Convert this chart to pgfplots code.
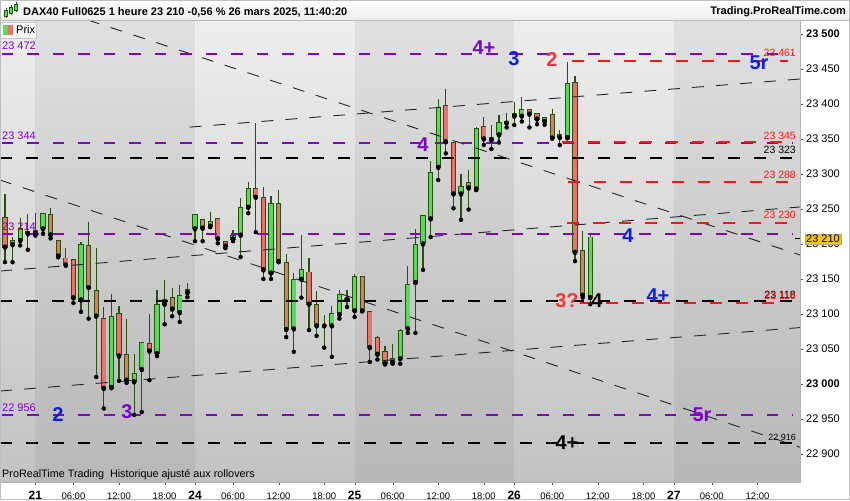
\documentclass[border=0pt]{standalone}
\usepackage{pgfplots}
\pgfplotsset{compat=1.18}
\usepackage{pgfplotstable}
\usepackage{fontspec}
\setmainfont{Liberation Sans}

\definecolor{upc}{RGB}{84,222,84}
\definecolor{dnc}{RGB}{234,116,104}
\definecolor{wickc}{RGB}{38,82,14}
\definecolor{purp}{RGB}{128,0,204}
\definecolor{bluec}{RGB}{10,30,240}
\definecolor{redl}{RGB}{255,20,20}
\definecolor{redt}{RGB}{236,56,56}
\definecolor{bgtop}{RGB}{238,238,238}
\definecolor{bgbot}{RGB}{194,194,194}
\definecolor{pricebox}{RGB}{247,198,0}

% hourly candles, k = candle index (one per hour, 01:00-21:00)
\pgfplotstableread{
k O H L C
2 23205 23237 23198 23221.6
5 23221.6 23244 23214.5 23243
10 23120 23202.6 23103 23199
14 22995 23129 22994 23096.7
17 23003 23043.5 22956 23015
18 23020.7 23060 22960 23058.7
20 23043.5 23134 23039.7 23113.8
21 23114 23148 23085.3 23120.4
23 23102 23141 23088.6 23126.6
24 23130.4 23144 23124 23134.7
25 23221.6 23242 23204 23241.6
27 23225.4 23245 23224 23231.6
30 23207 23220 23204 23212.6
31 23212.6 23265.8 23181.3 23251.5
32 23252.5 23289 23244 23278.6
35 23158.5 23269 23150 23257.3
38 23078.7 23158.5 23046 23149
39 23149.5 23213.5 23123.3 23163.2
43 23083 23111 23038.8 23100.5
44 23099 23133.8 23093.5 23127.5
45 23121 23133.8 23110 23122
46 23104.5 23156.5 23095.8 23153.7
51 23030.7 23056.8 23029 23036.5
52 23036 23078 23029 23076.8
53 23079 23168 23073 23141.8
54 23144.7 23221.6 23073 23198.8
55 23200 23242 23163 23240.6
56 23235.9 23318 23209.8 23302.4
57 23309.5 23406.9 23291.5 23395
60 23271.5 23300 23234.5 23282.5
62 23278.6 23367 23277 23365.5
64 23348.5 23369.8 23335.6 23352.7
65 23356 23384.5 23345 23374
66 23372.7 23387 23366.5 23375.5
67 23382.6 23403 23370 23386
68 23382.6 23410 23375 23392.6
71 23375 23382 23370.3 23380.7
73 23352 23362.7 23341.3 23357
74 23352 23460 23351 23429.7
77 23123.3 23214.5 23114 23210
}\upcandles

\pgfplotstableread{
k O H L C
0 23238 23271.5 23174 23195.5
1 23205 23210 23174 23199
3 23218 23243 23191.7 23214.5
4 23219 23244 23212 23215
6 23241.6 23251.5 23208 23213
7 23205 23206 23181 23182.7
8 23180 23194.5 23169 23170
9 23178 23179 23115.7 23123
11 23198 23232 23093.4 23137.5
12 23134 23194.5 23010 23097
13 23093 23110 22965 22993.6
15 23100.5 23111 23004.5 23040
16 23042.5 23093.4 23001.7 23005.5
19 23058 23100.5 23005.5 23047
22 23123.8 23137.5 23096.7 23107
26 23234.5 23235 23204 23222.6
28 23236 23237 23201 23207.4
29 23204 23204.5 23194 23197
33 23278.6 23372.7 23217 23266.8
34 23265.8 23282 23150 23163
36 23257.3 23277.7 23174 23175
37 23174 23185 23067 23077.7
40 23160 23180.3 23077 23114
41 23113.5 23132.5 23068.7 23083
42 23084 23098 23052 23083
47 23153 23154 23104 23104.5
48 23103 23104 23031.5 23052
49 23067 23068 23035 23042.5
50 23046.8 23054 23028 23029
58 23398.3 23421 23329.5 23346
59 23345 23346 23251 23271.5
61 23288 23305.7 23249.2 23280
63 23368.4 23382 23341.5 23350
69 23392.6 23393 23366.5 23385.5
70 23387 23387.5 23371 23378.5
72 23385.5 23392.6 23351 23351.3
75 23430.6 23440 23175.5 23188
76 23190.75 23218 23123.3 23126.6
}\dncandles

\newcommand\dl[1]{{\fontsize{12}{12}\selectfont\bfseries #1}}
\newcommand\wave[3]{\node[font=\fontsize{20}{22}\selectfont\bfseries, text=#1, inner sep=0pt] at #2 {#3};}

\begin{document}
\begin{tikzpicture}
\useasboundingbox (0pt,0pt) rectangle (850pt,500pt);
\fill[white] (0pt,0pt) rectangle (850pt,500pt);
\shade[top color=white, bottom color=gray!14] (0pt,480pt) rectangle (850pt,500pt);

\begin{axis}[
  at={(0pt,18pt)}, anchor=south west, scale only axis,
  width=800pt, height=462pt,
  xmin=-0.658, xmax=104.6, ymin=22860, ymax=23520,
  axis background/.style={top color=bgtop, bottom color=bgbot},
  axis line style={gray!60},
  tick align=outside, major tick length=3pt,
  tick style={black!70},
  scaled y ticks=false, scaled x ticks=false,
  xtick pos=bottom, ytick pos=right, yticklabel pos=right,
  xtick={4,9,15,21,25,30,36,42,46,51,57,63,67,72,78,84,88,93,99},
  xticklabels={\dl{21},06:00,12:00,18:00,\dl{24},06:00,12:00,18:00,\dl{25},06:00,12:00,18:00,\dl{26},06:00,12:00,18:00,\dl{27},06:00,12:00},
  xticklabel style={font=\fontsize{9.5}{10}\selectfont, anchor=base, inner sep=0pt, yshift=-14pt},
  ytick={22900,22950,...,23500},
  yticklabels={22 900,22 950,\textbf{23 000},23 050,23 100,23 150,23 200,23 250,23 300,23 350,23 400,23 450,\textbf{23 500}},
  yticklabel style={font=\fontsize{11}{12}\selectfont, anchor=west, inner sep=0pt, xshift=3pt},
]
% day bands
\addplot[draw=none, fill=black, fill opacity=0.055, forget plot] coordinates {(4,22860)(4,23520)(25,23520)(25,22860)};
\addplot[draw=none, fill=black, fill opacity=0.055, forget plot] coordinates {(46,22860)(46,23520)(67,23520)(67,22860)};
\addplot[draw=none, fill=black, fill opacity=0.055, forget plot] coordinates {(88,22860)(88,23520)(104.6,23520)(104.6,22860)};

% wicks
\addplot[only marks, mark=none, error bars/.cd, y dir=plus, y explicit, error mark=none,
  error bar style={draw=wickc, line width=1.1pt}]
  table[x=k, y=L, y error expr=\thisrow{H}-\thisrow{L}] {\upcandles};
\addplot[only marks, mark=none, error bars/.cd, y dir=plus, y explicit, error mark=none,
  error bar style={draw=wickc, line width=1.1pt}]
  table[x=k, y=L, y error expr=\thisrow{H}-\thisrow{L}] {\dncandles};
% bodies: outline
\addplot[only marks, mark=none, error bars/.cd, y dir=plus, y explicit, error mark=none,
  error bar style={draw=wickc, line width=5.2pt}]
  table[x=k, y expr=\thisrow{O}-0.7, y error expr=\thisrow{C}-\thisrow{O}+1.4] {\upcandles};
\addplot[only marks, mark=none, error bars/.cd, y dir=plus, y explicit, error mark=none,
  error bar style={draw=wickc, line width=5.2pt}]
  table[x=k, y expr=\thisrow{C}-0.7, y error expr=\thisrow{O}-\thisrow{C}+1.4] {\dncandles};
% bodies: fill
\addplot[only marks, mark=none, error bars/.cd, y dir=plus, y explicit, error mark=none,
  error bar style={draw=upc, line width=3.4pt}]
  table[x=k, y expr=\thisrow{O}+0.7, y error expr={max(\thisrow{C}-\thisrow{O}-1.4,0)}] {\upcandles};
\addplot[only marks, mark=none, error bars/.cd, y dir=plus, y explicit, error mark=none,
  error bar style={draw=dnc, line width=3.4pt}]
  table[x=k, y expr=\thisrow{C}+0.7, y error expr={max(\thisrow{O}-\thisrow{C}-1.4,0)}] {\dncandles};

% trend lines
\addplot[black!85, line width=0.9pt, dash pattern=on 12pt off 12pt] coordinates {(10.9,23520)(104.6,23184.3)};
\addplot[black!85, line width=0.9pt, dash pattern=on 12pt off 12pt] coordinates {(-0.66,23291.4)(104.6,22909.7)};
\addplot[black!85, line width=0.9pt, dash pattern=on 12pt off 12pt] coordinates {(-0.66,22990)(104.6,23080.6)};
\addplot[black!85, line width=0.9pt, dash pattern=on 12pt off 12pt] coordinates {(-0.66,23161.4)(104.6,23252.9)};
\addplot[black!85, line width=0.9pt, dash pattern=on 12pt off 12pt] coordinates {(24.3,23367)(104.6,23435.7)};

% levels
\addplot[purp, line width=2pt, dash pattern=on 11.5pt off 14pt] coordinates {(-0.4,23472)(103.7,23472)};
\addplot[purp, line width=2pt, dash pattern=on 11.5pt off 14pt] coordinates {(-0.4,23344)(103.7,23344)};
\addplot[purp, line width=2pt, dash pattern=on 11.5pt off 14pt] coordinates {(-0.4,23214)(103.7,23214)};
\addplot[purp, line width=2pt, dash pattern=on 11.5pt off 14pt] coordinates {(-0.4,22956)(103.7,22956)};
\addplot[black, line width=2pt, dash pattern=on 12pt off 14pt] coordinates {(-0.6,23323)(103.7,23323)};
\addplot[black, line width=2pt, dash pattern=on 12pt off 14pt] coordinates {(-0.6,23118)(103.7,23118)};
\addplot[black, line width=2pt, dash pattern=on 12pt off 14pt] coordinates {(-0.6,22916)(103.9,22916)};
\addplot[redl, line width=2pt, dash pattern=on 12pt off 14pt] coordinates {(74.6,23461)(103,23461)};
\addplot[redl, line width=2pt, dash pattern=on 12pt off 14pt] coordinates {(73.3,23345)(103,23345)};
\addplot[redl, line width=2pt, dash pattern=on 12pt off 14pt] coordinates {(74.1,23288)(103,23288)};
\addplot[redl, line width=2pt, dash pattern=on 12pt off 14pt] coordinates {(73.9,23230)(103,23230)};
\addplot[redl, line width=2pt, dash pattern=on 12pt off 14pt] coordinates {(75.7,23116)(103,23116)};
\end{axis}

% header
\draw[gray!55] (0pt,480pt) -- (850pt,480pt);
\draw[wickc, line width=0.8pt] (6pt,482pt) -- (6pt,492pt) (11pt,485pt) -- (11pt,495pt) (16pt,488pt) -- (16pt,498pt);
\filldraw[fill=upc, draw=wickc, line width=0.5pt] (4.5pt,484pt) rectangle (7.5pt,490pt);
\filldraw[fill=upc, draw=wickc, line width=0.5pt] (9.5pt,487pt) rectangle (12.5pt,493pt);
\filldraw[fill=upc, draw=wickc, line width=0.5pt] (14.5pt,490pt) rectangle (17.5pt,496pt);
\node[anchor=west, inner sep=0pt, font=\fontsize{11}{13}\selectfont\bfseries] at (23pt,488pt) {DAX40 Full0625 1 heure 23 210 -0,56 \% 26 mars 2025, 11:40:20};
\node[anchor=east, inner sep=0pt, font=\fontsize{11}{13}\selectfont\bfseries] at (846pt,488pt) {Trading.ProRealTime.com};

% legend box
\filldraw[fill=gray!6, draw=gray!45] (0pt,462pt) rectangle (36pt,478pt);
\fill[upc] (3pt,465pt) rectangle (8pt,475pt);
\fill[dnc] (8pt,465pt) rectangle (13pt,475pt);
\node[anchor=west, inner sep=0pt, font=\fontsize{11}{12}\selectfont] at (16pt,470pt) {Prix};

% level labels, left
\begin{scope}[every node/.style={anchor=west, inner sep=0pt, font=\fontsize{11}{12}\selectfont, text=purp}]
\node at (2pt,454pt) {23 472};
\node at (2pt,364pt) {23 344};
\node at (2pt,273pt) {23 214};
\node at (2pt,92pt) {22 956};
\end{scope}
% level labels, right
\begin{scope}[every node/.style={anchor=east, inner sep=0pt, font=\fontsize{10.5}{12}\selectfont}]
\node[text=redl] at (796pt,447pt) {23 461};
\node[text=redl] at (796pt,364pt) {23 345};
\node[text=black] at (796pt,350pt) {23 323};
\node[text=redl] at (796pt,325pt) {23 288};
\node[text=redl] at (796pt,285pt) {23 230};
\node[text=black] at (796pt,205.5pt) {23 118};
\node[text=redl] at (796pt,204pt) {23 116};
\node[text=black, font=\fontsize{9}{10}\selectfont] at (796pt,63pt) {22 916};
\end{scope}

% wave labels
\wave{purp}{(484pt,452pt)}{4+}
\wave{bluec}{(514pt,441pt)}{3}
\wave{redt}{(552pt,440pt)}{2}
\wave{bluec}{(759pt,437pt)}{5r}
\wave{purp}{(423pt,355pt)}{4}
\wave{bluec}{(628pt,264pt)}{4}
\wave{bluec}{(658pt,204pt)}{4+}
\wave{redt}{(567pt,199pt)}{3?}
\wave{black}{(597pt,199pt)}{4}
\wave{bluec}{(58pt,85pt)}{2}
\wave{purp}{(127pt,88pt)}{3}
\wave{purp}{(702pt,85pt)}{5r}
\wave{black}{(567pt,57pt)}{4+}

% last price
\draw[black, line width=1pt] (795pt,261pt) -- (800pt,261pt);
\node[fill=pricebox, draw=gray!70, inner xsep=1.5pt, inner ysep=1pt, anchor=west, font=\fontsize{11}{12}\selectfont] at (804.5pt,261pt) {23 210};

% footer
\node[anchor=west, inner sep=0pt, font=\fontsize{10.8}{12}\selectfont] at (2pt,25pt) {ProRealTime Trading\ \ Historique ajusté aux rollovers};
\draw[gray!50] (0.5pt,0.5pt) rectangle (849.5pt,499.5pt);
\end{tikzpicture}
\end{document}
